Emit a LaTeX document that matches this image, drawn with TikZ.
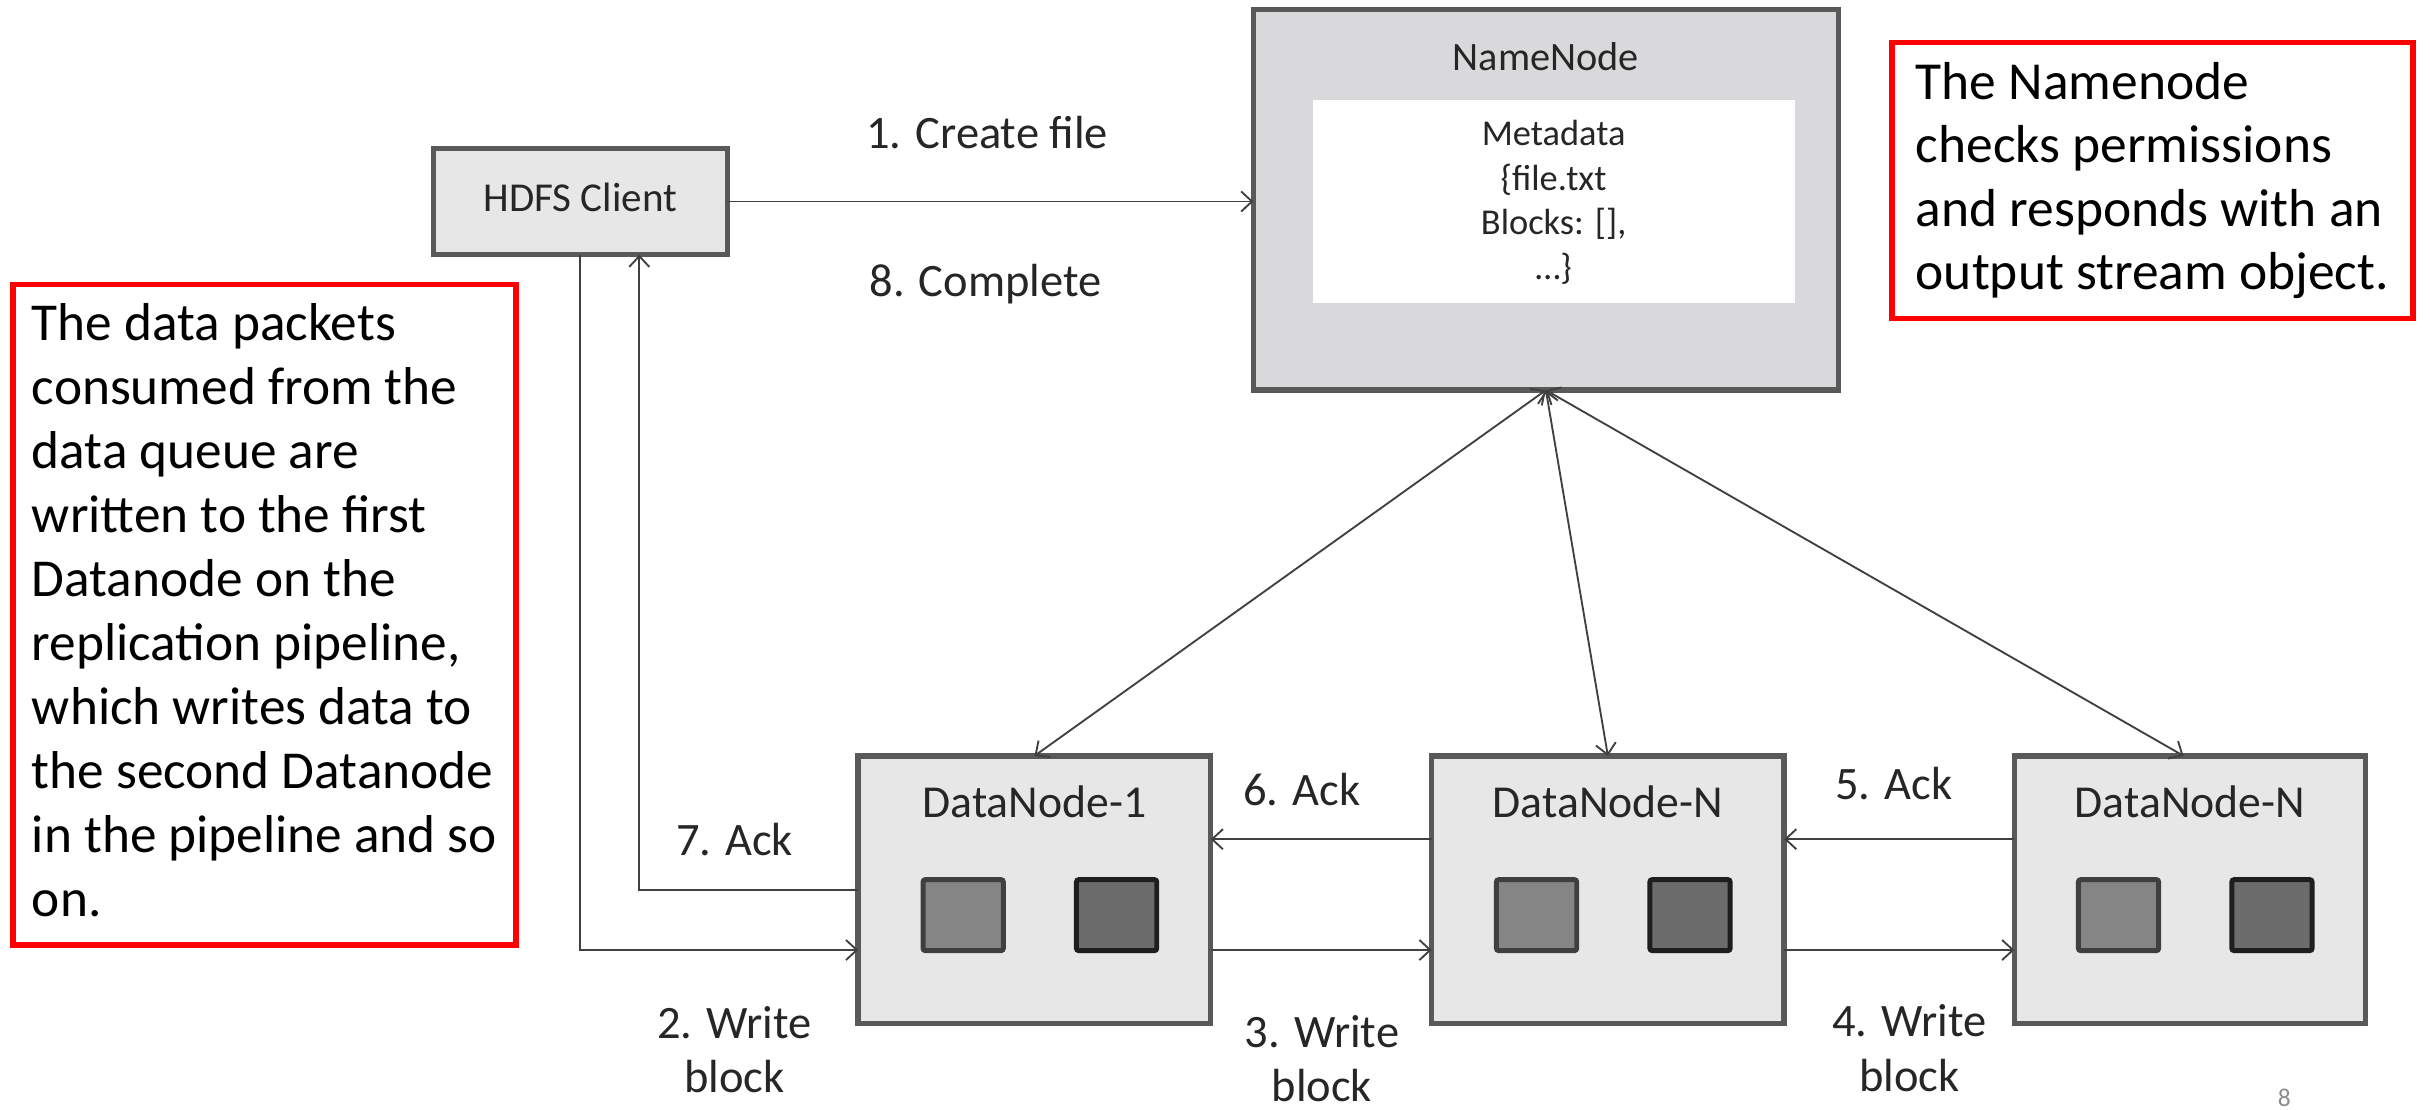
\documentclass[tikz,border=0pt]{standalone}
\usepackage{fontspec}
\setmainfont{Carlito}
\usetikzlibrary{arrows.meta,calc}
\definecolor{boxfill}{HTML}{E7E7E8}
\definecolor{nnfill}{HTML}{D9D9DB}
\definecolor{boxline}{HTML}{595959}
\definecolor{arrline}{HTML}{404040}
\definecolor{txt}{HTML}{262626}
\definecolor{sqA}{HTML}{858585}
\definecolor{sqAline}{HTML}{3F3F3F}
\definecolor{sqB}{HTML}{6C6C6C}
\definecolor{sqBline}{HTML}{1E1E1E}
\definecolor{pgnum}{HTML}{8C8C8C}
\newcommand\myfs[2]{\fontsize{#1}{#2}\selectfont}
\begin{document}
\begin{tikzpicture}[x=1pt,y=-1pt,
  box/.style={draw=boxline,fill=boxfill,line width=3.5pt,inner sep=0pt,outer sep=0pt},
  dnbox/.style={box,minimum width=227.5pt,minimum height=172.5pt},
  sqa/.style={draw=sqAline,fill=sqA,line width=3.2pt,rounded corners=1.5pt,minimum width=51.8pt,minimum height=45.8pt,inner sep=0pt,outer sep=0pt},
  sqb/.style={draw=sqBline,fill=sqB,line width=3.2pt,rounded corners=1.5pt,minimum width=51.8pt,minimum height=45.8pt,inner sep=0pt,outer sep=0pt},
  flow/.style={draw=arrline,line width=1.2pt,-{Straight Barb[length=7pt,width=13pt]}},
  twoway/.style={draw=arrline,line width=1.2pt,{Straight Barb[length=7pt,width=13pt]}-{Straight Barb[length=7pt,width=13pt]}},
  lbl/.style={text=txt,font=\myfs{30}{35},inner sep=0pt,anchor=base},
  title/.style={text=txt,font=\myfs{29.5}{35},inner sep=0pt,anchor=base},
  note/.style={draw=red,line width=3.7pt,inner sep=0pt,outer sep=0pt},
  notetext/.style={text=black,font=\myfs{34.4}{41.3},inner sep=0pt,anchor=base west}
]
\useasboundingbox (0,0) rectangle (1568,716);

% HDFS client
\node[box,minimum width=189.7pt,minimum height=68.7pt] (client) at (374.5,130) {};
\node[text=txt,font=\myfs{26.5}{32},inner sep=0pt,anchor=base] (clientT) at ($(client.center)+(0,6.6)$) {HDFS Client};

% NameNode
\node[box,fill=nnfill,minimum width=377.5pt,minimum height=245.5pt] (nn) at (997.5,129) {};
\node[text=txt,font=\myfs{26}{32},inner sep=0pt,anchor=base] (nnT) at ($(nn.north)+(0,39.4)$) {NameNode};
\node[fill=white,minimum width=311pt,minimum height=130.5pt,inner sep=0pt] (meta) at (1002.5,130) {};
\node[text=txt,font=\myfs{23.5}{29},inner sep=0pt,anchor=base] (metaT) at (1002.5,93.6)
  {\begin{tabular}[t]{@{}c@{}}Metadata\\\{file.txt\\Blocks: [],\\…\}\end{tabular}};

% DataNodes
\node[dnbox] (dn1) at (667.5,574) {};
\node[dnbox] (dn2) at (1037.5,574) {};
\node[dnbox,minimum width=226.5pt] (dn3) at (1413,574) {};
\node[title] (dn1T) at ($(dn1.north)+(0,39.5)$) {DataNode-1};
\node[title] (dn2T) at ($(dn2.north)+(0,39.5)$) {DataNode-N};
\node[title] (dn3T) at ($(dn3.north)+(0,39.5)$) {DataNode-N};
\foreach \d in {dn1,dn2,dn3}{
  \node[sqa] (\d a) at ($(\d.center)+(-46,16.5)$) {};
  \node[sqb] (\d b) at ($(\d.center)+(53,16.5)$) {};
}

% connectors
\draw[flow] (client.east) -- (client.east -| nn.west);
\coordinate (wr1) at ($(dn1.west)+(0,39)$);
\draw[flow] (client.south) |- (wr1);
\coordinate (ackup) at ($(client.south)+(38,0)$);
\draw[flow] (dn1.west) -| (ackup);
\draw[flow] ($(dn2.west)+(0,-32.5)$) -- ($(dn1.east)+(0,-32.5)$);
\draw[flow] ($(dn3.west)+(0,-32.5)$) -- ($(dn2.east)+(0,-32.5)$);
\draw[flow] ($(dn1.east)+(0,39)$) -- ($(dn2.west)+(0,39)$);
\draw[flow] ($(dn2.east)+(0,39)$) -- ($(dn3.west)+(0,39)$);
\draw[twoway] (nn.south) -- (dn1.north);
\draw[twoway] (nn.south) -- (dn2.north);
\draw[twoway] (nn.south) -- ($(dn3.north)+(-4,0)$);

% labels
\node[lbl] (l1) at (637,96) {1. Create file};
\node[lbl] (l8) at (636,191) {8. Complete};
\node[lbl] (l7) at (474,552) {7. Ack};
\node[lbl] (l2) at (474,670) {\begin{tabular}[t]{@{}c@{}}2. Write\\block\end{tabular}};
\node[lbl] (l6) at (840,519.5) {6. Ack};
\node[lbl] (l3) at (853,676) {\begin{tabular}[t]{@{}c@{}}3. Write\\block\end{tabular}};
\node[lbl] (l5) at (1222,516) {5. Ack};
\node[lbl] (l4) at (1232,669) {\begin{tabular}[t]{@{}c@{}}4. Write\\block\end{tabular}};

% notes
\node[note,minimum width=324.5pt,minimum height=426.5pt,anchor=north west] (noteL) at (8.5,183.5) {};
\node[notetext] (noteLT) at (20.4,220) {\begin{tabular}[t]{@{}l@{}}The data packets\\consumed from the\\data queue are\\written to the first\\Datanode on the\\replication pipeline,\\which writes data to\\the second Datanode\\in the pipeline and so\\on.\end{tabular}};
\node[note,minimum width=336.3pt,minimum height=178pt,anchor=north west] (noteR) at (1220.8,27.5) {};
\node[notetext,font=\myfs{34.5}{41}] (noteRT) at (1236,64) {\begin{tabular}[t]{@{}l@{}}The Namenode\\checks permissions\\and responds with an\\output stream object.\end{tabular}};

% page number
\node[text=pgnum,font=\myfs{16.5}{20},inner sep=0pt,anchor=base] (pg) at (1474,714) {8};
\end{tikzpicture}
\end{document}
